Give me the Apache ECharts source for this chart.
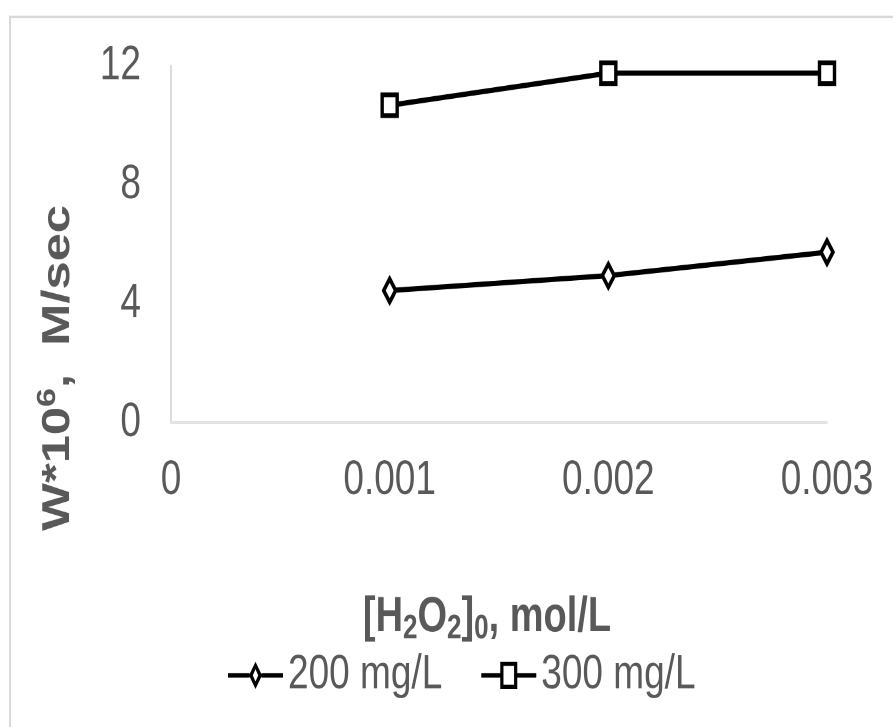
<!DOCTYPE html>
<html>
<head>
<meta charset="utf-8">
<script src="https://cdn.jsdelivr.net/npm/echarts@6/dist/echarts.min.js"></script>
<style>
  html, body { margin: 0; padding: 0; background: #fff; overflow: hidden; }
  #wrap { width: 893px; height: 727px; overflow: hidden; position: relative; }
  #chart { width: 893px; height: 559.23px; transform: scaleY(1.3); transform-origin: 0 0; }
</style>
</head>
<body>
<div id="wrap"><div id="chart"></div></div>
<script>
// ---- data ----
var xValues = [0.001, 0.002, 0.003];
var series200 = [4.45, 4.95, 5.74];
var series300 = [10.68, 11.76, 11.76];
var seriesNames = ['200 mg/L', '300 mg/L'];
var xTicks = [0, 0.001, 0.002, 0.003];
var yTicks = [0, 4, 8, 12];

var FONT = '"Liberation Sans", Arial, sans-serif';
var TXT = '#595959';

function pairs(xs, ys) { return xs.map(function (x, i) { return [x, ys[i]]; }); }

// legend icons: line with a hollow marker in the middle (box 55 x 21)
var ICON_DIAMOND = 'path://M0 8.7L21.5 8.7L21.5 12.3L0 12.3Z' +
  'M33.5 8.7L55 8.7L55 12.3L33.5 12.3Z' +
  'M27.5 0L34 10.5L27.5 21L21 10.5Z' +
  'M27.5 5.8L24.8 10.5L27.5 15.2L30.2 10.5Z';
var ICON_SQUARE = 'path://M0 8.7L19.5 8.7L19.5 12.3L0 12.3Z' +
  'M35.5 8.7L55 8.7L55 12.3L35.5 12.3Z' +
  'M19 0L36 0L36 21L19 21Z' +
  'M22.2 3.2L22.2 17.8L32.8 17.8L32.8 3.2Z';

var chart = echarts.init(document.getElementById('chart'), null, { devicePixelRatio: 2 });
var option = {
  animation: false,
  backgroundColor: '#fff',
  textStyle: { fontFamily: FONT },
  grid: { left: 171, right: 66, top: 50.8, bottom: 233.8, containLabel: false },
  xAxis: {
    type: 'value',
    min: xTicks[0], max: xTicks[xTicks.length - 1], interval: 0.001,
    axisLine: { show: true, lineStyle: { color: '#e3e3e3', width: 2 } },
    axisTick: { show: false },
    splitLine: { show: false },
    axisLabel: {
      color: TXT, fontSize: 37, fontFamily: FONT, margin: 26,
      formatter: function (v) { var i = xTicks.indexOf(+v.toFixed(3)); return i >= 0 ? String(xTicks[i]) : ''; }
    }
  },
  yAxis: {
    type: 'value',
    min: yTicks[0], max: yTicks[yTicks.length - 1], interval: 4,
    axisLine: { show: true, lineStyle: { color: '#dcdcdc', width: 2 } },
    axisTick: { show: false },
    splitLine: { show: false },
    axisLabel: { color: TXT, fontSize: 37, fontFamily: FONT, margin: 30 }
  },
  legend: {
    left: 223, top: 496,
    itemWidth: 55, itemHeight: 21, itemGap: 39,
    textStyle: { color: TXT, fontSize: 37, fontFamily: FONT },
    data: [
      { name: seriesNames[0], icon: ICON_DIAMOND, itemStyle: { color: '#000', borderWidth: 0 } },
      { name: seriesNames[1], icon: ICON_SQUARE, itemStyle: { color: '#000', borderWidth: 0 } }
    ]
  },
  graphic: [
    { type: 'rect', shape: { x: 10, y: 13, width: 1000, height: 1000 },
      style: { fill: 'none', stroke: '#d9d9d9', lineWidth: 2 }, silent: true },
    { type: 'text', x: 58, y: 283, rotation: Math.PI / 2,
      style: {
        text: '{a|W*10}{s|6}{a|,  M/sec}',
        align: 'center', verticalAlign: 'middle',
        rich: {
          a: { fontSize: 39, fontWeight: 'bold', fill: TXT, fontFamily: FONT, lineHeight: 46 },
          s: { fontSize: 26, fontWeight: 'bold', fill: TXT, fontFamily: FONT, lineHeight: 46, verticalAlign: 'top', padding: [0, 0, 12, 0] }
        }
      } },
    { type: 'text', x: 487, y: 475,
      style: {
        text: '{a|[H}{s|2}{a|O}{s|2}{a|]}{s|0}{a|, mol/L}',
        align: 'center', verticalAlign: 'middle',
        rich: {
          a: { fontSize: 38, fontWeight: 'bold', fill: TXT, fontFamily: FONT, lineHeight: 44 },
          s: { fontSize: 26, fontWeight: 'bold', fill: TXT, fontFamily: FONT, lineHeight: 44, verticalAlign: 'bottom', padding: [10, 0, 0, 0] }
        }
      } }
  ],
  series: [
    {
      name: seriesNames[0], type: 'line', data: pairs(xValues, series200),
      symbol: 'diamond', symbolSize: [12, 18], showAllSymbol: true,
      lineStyle: { color: '#000', width: 4 },
      itemStyle: { color: '#fff', borderColor: '#000', borderWidth: 3.5 }
    },
    {
      name: seriesNames[1], type: 'line', data: pairs(xValues, series300),
      symbol: 'rect', symbolSize: [15, 16], showAllSymbol: true,
      lineStyle: { color: '#000', width: 4 },
      itemStyle: { color: '#fff', borderColor: '#000', borderWidth: 3.5 }
    }
  ]
};
chart.setOption(option);
</script>
</body>
</html>
